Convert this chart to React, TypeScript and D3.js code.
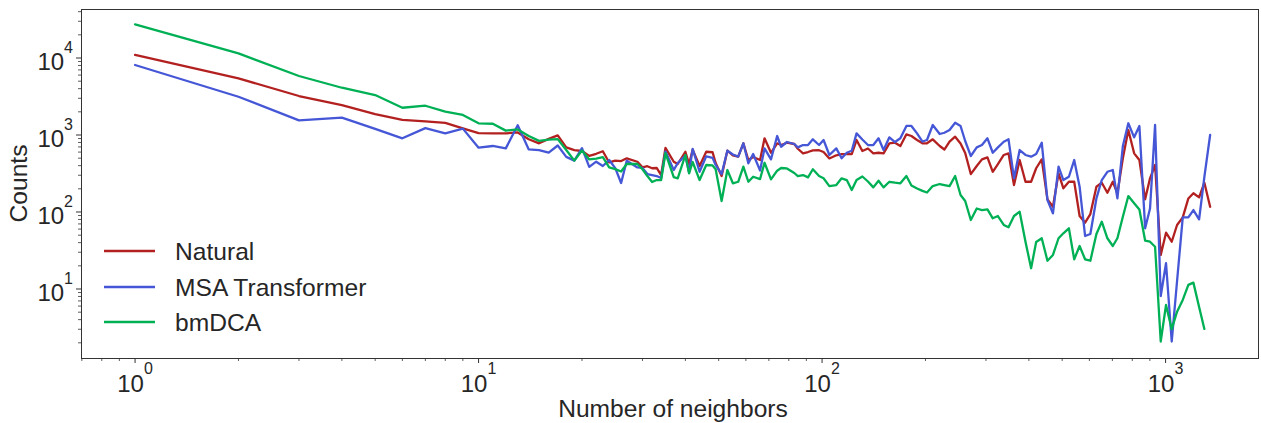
import React from 'react';
import * as d3 from 'd3';

const neighbors = [
  1, 2, 3, 4, 5, 6, 7, 8, 9, 10, 11, 12, 13, 14, 15, 16, 17, 18, 19, 20, 21, 22, 23, 24, 25,
  26, 27, 29, 30, 31, 32, 33, 34, 35, 37, 38, 40, 41, 42, 44, 46, 48, 49,
  51, 53, 55, 57, 59, 61, 63, 66, 68, 71, 74, 76, 79, 83, 85, 88, 91, 94,
  98, 101, 105, 110, 114, 118, 122, 126, 131, 136, 141, 146, 151, 157, 163, 169, 176, 182,
  189, 196, 202, 210, 220, 227, 235, 244, 253, 261, 271, 282, 292, 303, 314, 325, 338, 349,
  362, 376, 391, 406, 420, 436, 453, 470, 488, 504, 523, 542, 562, 583, 604, 629, 652, 677,
  702, 724, 751, 779, 810, 839, 872, 901, 932, 968, 1003, 1042, 1080, 1122, 1165, 1205, 1252, 1297, 1348,
];

const naturalCounts = [
  11000, 5450, 3210, 2450, 1870, 1570, 1500, 1440, 1220, 1060, 1050, 1050, 1080, 880, 780, 890, 990, 690, 638, 620, 536, 570, 615, 440, 465,
  459, 498, 449, 381, 393, 370, 373, 302, 681,
  449, 420, 606, 420, 645, 396, 606, 597, 432,
  293, 625, 542, 523, 780, 473, 518, 473, 906,
  588, 780, 741, 794, 764, 663, 578, 601, 632,
  634, 601, 496, 545, 563, 566, 566, 861, 619,
  668, 578, 588, 578, 780, 794, 719, 1020, 970,
  861, 780, 780, 879, 719, 648, 818, 950, 776,
  583, 311, 396, 483, 513, 333, 420, 550, 578,
  224, 473, 247, 247, 370, 483, 146, 117, 318,
  203, 247, 247, 88.7, 72.6, 94, 213, 240, 178,
  247, 175, 498, 1161, 578, 473, 146, 274, 408,
  27.7, 53.8, 41.1, 67.8, 85.3, 150, 175, 155, 240,
  117,
];

const msaCounts = [
  8110, 3140, 1550, 1680, 1200, 906, 1230, 1050, 1210, 684, 720, 670, 1340, 650, 638, 590, 730, 520, 465, 675, 385, 450, 396, 473, 372,
  238, 463, 379, 373, 311, 302, 293, 276, 610,
  351, 432, 542, 326, 661, 333, 529, 505, 408,
  311, 625, 558, 523, 780, 429, 566, 346, 671,
  483, 970, 704, 811, 764, 691, 741, 741, 879,
  741, 861, 550, 671, 498, 588, 625, 1050, 874,
  741, 741, 906, 638, 933, 811, 906, 1310, 1310,
  1050, 823, 861, 1348, 1030, 1070, 1161, 1440, 1310,
  836, 534, 691, 741, 906, 588, 691, 818, 879,
  274, 638, 550, 523, 566, 794, 143, 96, 388,
  260, 287, 473, 213, 48.8, 51.8, 150, 260, 333,
  351, 150, 719, 1420, 933, 1310, 61.4, 111, 1348,
  8.1, 21.6, 2.08, 12.7, 85.3, 85.3, 106, 80.3, 286,
  1000,
];

const bmdcaCounts: (number | null)[] = [
  27400, 11500, 5840, 4110, 3300, 2260, 2400, 2010, 1820, 1420, 1400, 1140, 1180, 970, 840, 870, 885, 640, 465, 630, 482, 495, 515, 380, 360,
  336, 420, 420, 359, 293, 245, 260, 260, 583,
  284, 274, 550, 318, 446, 260, 408, 402, 359,
  139, 351, 236, 247, 388, 247, 287, 268, 436,
  265, 344, 373, 368, 321, 293, 302, 282, 359,
  293, 274, 217, 224, 274, 260, 193, 260, 289,
  249, 209, 255, 209, 247, 240, 236, 293, 221,
  202, 188, 179, 217, 231, 224, 217, 293, 166,
  139, 78.7, 111, 106, 108, 82.8, 88.7, 67.8, 63.3,
  88.7, 101, 41.1, 18.6, 40.8, 45.6, 23.3, 27.7, 45.6,
  52.9, 61.4, 24.3, 36.2, 24.3, 23.3, 51.8, 74.8, 45.6,
  36.2, 45.6, 86.8, 161, 130, 108, 42.4, 41.1, 35.4,
  2.08, 6.21, 3.01, 5.08, 7.21, 11.3, 12.1, 5.85, 3.03,
  null,
];

const seriesNames = ['Natural', 'MSA Transformer', 'bmDCA'];
const xTickExponents = [0, 1, 2, 3];
const yTickExponents = [1, 2, 3, 4];
const xLabel = 'Number of neighbors';
const yLabel = 'Counts';

const FONT = '"Liberation Sans", Arial, Helvetica, sans-serif';
const TEXT = '#262626';
const SPINE = '#333333';
const COLORS = ['#b32020', '#4557d6', '#00b055'];
const LABEL_SIZE = 24.6;

export default function App() {
  const W = 1261;
  const H = 423;
  const m = { left: 81, right: 1258, top: 9, bottom: 358 };
  const xDomain: [number, number] = [0.696, 1858];
  const yDomain: [number, number] = [1.27, 43300];
  const x = d3.scaleLog().domain(xDomain).range([m.left, m.right]);
  const y = d3.scaleLog().domain(yDomain).range([m.bottom, m.top]);

  const seriesValues = [naturalCounts, msaCounts, bmdcaCounts];
  const line = d3
    .line<[number, number | null]>()
    .defined((d) => d[1] != null)
    .x((d) => x(d[0]))
    .y((d) => y(d[1] as number));

  const minor = (dom: [number, number]) => {
    const out: number[] = [];
    for (let e = -2; e <= 5; e++) {
      for (let k = 2; k <= 9; k++) {
        const v = k * Math.pow(10, e);
        if (v >= dom[0] && v <= dom[1]) out.push(v);
      }
    }
    return out;
  };
  const xMinor = minor(xDomain);
  const yMinor = minor(yDomain);

  const legendY = [251, 287, 322];

  return (
    <svg
      width={W}
      height={H}
      style={{ position: 'absolute', left: 0, top: 0, background: '#fff' }}
      fontFamily={FONT}
    >
      <rect x={0} y={0} width={W} height={H} fill="#fff" />
      <clipPath id="plotclip">
        <rect x={m.left} y={m.top} width={m.right - m.left} height={m.bottom - m.top} />
      </clipPath>

      <g clipPath="url(#plotclip)">
        {seriesValues.map((vals, i) => (
          <path
            key={seriesNames[i]}
            d={line(neighbors.map((n, j) => [n, vals[j]] as [number, number | null])) || ''}
            fill="none"
            stroke={COLORS[i]}
            strokeWidth={2.3}
            strokeLinejoin="round"
            strokeLinecap="round"
          />
        ))}
      </g>

      {/* spines */}
      <rect
        x={m.left}
        y={m.top}
        width={m.right - m.left}
        height={m.bottom - m.top}
        fill="none"
        stroke={SPINE}
        strokeWidth={1}
        shapeRendering="crispEdges"
      />

      {/* x ticks */}
      {xMinor.map((v) => (
        <line key={'xm' + v} x1={x(v)} x2={x(v)} y1={m.bottom} y2={m.bottom + 3} stroke={SPINE} strokeWidth={0.8} />
      ))}
      {xTickExponents.map((e) => {
        const px = x(Math.pow(10, e));
        return (
          <g key={'xt' + e}>
            <line x1={px} x2={px} y1={m.bottom} y2={m.bottom + 5} stroke={SPINE} strokeWidth={1} />
            <text x={px} y={392} textAnchor="middle" fill={TEXT} fontSize={24}>
              <tspan>10</tspan>
              <tspan dy={-18} fontSize={16}>{e}</tspan>
            </text>
          </g>
        );
      })}

      {/* y ticks */}
      {yMinor.map((v) => (
        <line key={'ym' + v} x1={m.left - 3} x2={m.left} y1={y(v)} y2={y(v)} stroke={SPINE} strokeWidth={0.8} />
      ))}
      {yTickExponents.map((e) => {
        const py = y(Math.pow(10, e));
        return (
          <g key={'yt' + e}>
            <line x1={m.left - 5} x2={m.left} y1={py} y2={py} stroke={SPINE} strokeWidth={1} />
            <text x={73} y={py + 12} textAnchor="end" fill={TEXT} fontSize={24}>
              <tspan>10</tspan>
              <tspan dy={-17} fontSize={16}>{e}</tspan>
            </text>
          </g>
        );
      })}

      {/* axis labels */}
      <text x={673} y={417} textAnchor="middle" fill={TEXT} fontSize={LABEL_SIZE}>
        {xLabel}
      </text>
      <text
        transform={`translate(27,${(m.top + m.bottom) / 2}) rotate(-90)`}
        textAnchor="middle"
        fill={TEXT}
        fontSize={LABEL_SIZE}
      >
        {yLabel}
      </text>

      {/* legend */}
      {seriesNames.map((name, i) => (
        <g key={'lg' + name}>
          <line x1={104} x2={155} y1={legendY[i]} y2={legendY[i]} stroke={COLORS[i]} strokeWidth={2.3} />
          <text x={175} y={legendY[i] + 8.5} fill={TEXT} fontSize={LABEL_SIZE}>
            {name}
          </text>
        </g>
      ))}
    </svg>
  );
}
